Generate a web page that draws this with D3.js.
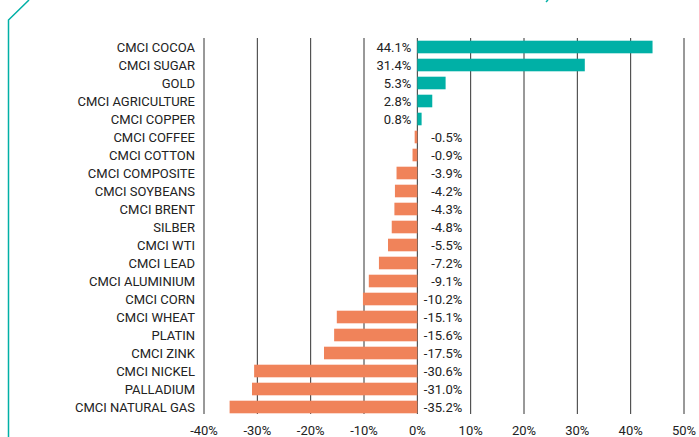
<!DOCTYPE html>
<html>
<head>
  <script src="https://d3js.org/d3.v7.min.js"></script>
  <style>
    body { margin: 0; background: #fff; }
    text { font-family: Roboto, "Liberation Sans", sans-serif; fill: #222; }
  </style>
</head>
<body>
<script type="text/javascript">

  var categories = ["CMCI COCOA", "CMCI SUGAR", "GOLD", "CMCI AGRICULTURE", "CMCI COPPER",
    "CMCI COFFEE", "CMCI COTTON", "CMCI COMPOSITE", "CMCI SOYBEANS", "CMCI BRENT", "SILBER",
    "CMCI WTI", "CMCI LEAD", "CMCI ALUMINIUM", "CMCI CORN", "CMCI WHEAT", "PLATIN",
    "CMCI ZINK", "CMCI NICKEL", "PALLADIUM", "CMCI NATURAL GAS"];
  var values = [44.1, 31.4, 5.3, 2.8, 0.8, -0.5, -0.9, -3.9, -4.2, -4.3, -4.8, -5.5, -7.2,
    -9.1, -10.2, -15.1, -15.6, -17.5, -30.6, -31.0, -35.2];
  var tickValues = [-40, -30, -20, -10, 0, 10, 20, 30, 40, 50];

  var config = {
    canvas: {width: 699, height: 437},
    teal: "#00b0a6",
    orange: "#f0835a",
    fontSize: "13px"
  };

  var svg = d3.select("body").append("svg")
    .attr("width", config.canvas.width)
    .attr("height", config.canvas.height);

  var x = d3.scaleLinear().domain([-40, 50]).range([204, 684]);
  var y = d3.scaleBand().domain(categories).range([38, 416]).paddingInner(0.3).paddingOuter(0.15);

  // frame decoration
  svg.append("path")
    .attr("d", "M8.5,437 L8.5,20 L29,0")
    .attr("fill", "none")
    .attr("stroke", config.teal)
    .attr("stroke-width", 1.5);
  svg.append("line")
    .attr("x1", 546).attr("y1", 2).attr("x2", 548).attr("y2", 0)
    .attr("stroke", config.teal).attr("stroke-width", 1.5);

  // grid
  svg.append("g").selectAll("line")
    .data(tickValues)
    .enter().append("line")
    .attr("x1", function(d) { return x(d); })
    .attr("x2", function(d) { return x(d); })
    .attr("y1", 38)
    .attr("y2", 414)
    .attr("stroke", "#333")
    .attr("stroke-width", 1);

  svg.append("g").selectAll("text")
    .data(tickValues)
    .enter().append("text")
    .attr("x", function(d) { return x(d); })
    .attr("y", 434.5)
    .attr("text-anchor", "middle")
    .attr("font-size", config.fontSize)
    .text(function(d) { return d + "%"; });

  // bars
  svg.append("g").selectAll("rect")
    .data(values)
    .enter().append("rect")
    .attr("x", function(d) { return x(Math.min(0, d)); })
    .attr("width", function(d) { return Math.abs(x(d) - x(0)); })
    .attr("y", function(d, i) { return y(categories[i]); })
    .attr("height", y.bandwidth())
    .attr("fill", function(d) { return d >= 0 ? config.teal : config.orange; });

  // category labels
  svg.append("g").selectAll("text")
    .data(categories)
    .enter().append("text")
    .attr("x", 195)
    .attr("y", function(d) { return y(d) + y.bandwidth() / 2; })
    .attr("dy", "0.35em")
    .attr("text-anchor", "end")
    .attr("font-size", config.fontSize)
    .text(function(d) { return d; });

  // value labels
  svg.append("g").selectAll("text")
    .data(values)
    .enter().append("text")
    .attr("x", function(d) { return d >= 0 ? x(0) - 6 : x(0) + 45; })
    .attr("y", function(d, i) { return y(categories[i]) + y.bandwidth() / 2; })
    .attr("dy", "0.35em")
    .attr("text-anchor", "end")
    .attr("font-size", config.fontSize)
    .text(function(d) { return d.toFixed(1) + "%"; });

</script>
</body>
</html>
